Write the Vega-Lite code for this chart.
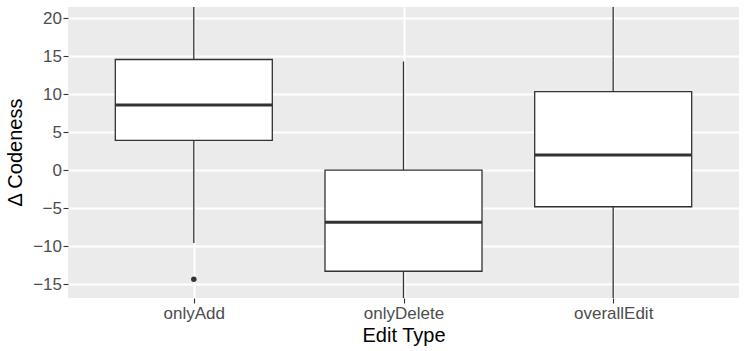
{
  "$schema": "https://vega.github.io/schema/vega-lite/v6.json",
  "width": 671,
  "height": 291,
  "autosize": "none",
  "padding": {"left": 68, "top": 7, "right": 8, "bottom": 53},
  "background": "white",
  "config": {
    "view": {"fill": "#EBEBEB", "stroke": null},
    "font": "Liberation Sans"
  },
  "data": {
    "values": [
      {"type": "onlyAdd", "lower": -9.59, "q1": 3.91, "median": 8.57, "q3": 14.55, "upper": 30, "outlier": -14.37},
      {"type": "onlyDelete", "lower": -25, "q1": -13.32, "median": -6.86, "q3": 0.0, "upper": 14.28, "outlier": null},
      {"type": "overallEdit", "lower": -25, "q1": -4.83, "median": 1.98, "q3": 10.33, "upper": 30, "outlier": null}
    ]
  },
  "encoding": {
    "x": {
      "field": "type",
      "type": "nominal",
      "sort": ["onlyAdd", "onlyDelete", "overallEdit"],
      "scale": {"type": "point", "padding": 0.6},
      "axis": {
        "title": "Edit Type",
        "labelAngle": 0,
        "domain": false,
        "grid": true,
        "gridColor": "white",
        "gridWidth": 2.1,
        "tickColor": "#333333",
        "tickWidth": 1.1,
        "tickSize": 5,
        "labelBaseline": "alphabetic",
        "labelPadding": 15,
        "labelFontSize": 17,
        "labelColor": "#4D4D4D",
        "labelFont": "Liberation Sans",
        "titleFont": "Liberation Sans",
        "titleFontSize": 20,
        "titleFontWeight": "normal",
        "titleColor": "black",
        "titleBaseline": "alphabetic",
        "titleY": 43
      }
    }
  },
  "layer": [
    {
      "mark": {"type": "rule", "color": "#333333", "strokeWidth": 1.3, "clip": true},
      "encoding": {
        "y": {
          "field": "q3",
          "type": "quantitative",
          "scale": {"domain": [-16.84, 21.46], "nice": false, "zero": false},
          "axis": {
            "title": "Δ Codeness",
            "values": [-15, -12.5, -10, -7.5, -5, -2.5, 0, 2.5, 5, 7.5, 10, 12.5, 15, 17.5, 20],
            "labelExpr": "datum.value % 5 === 0 ? datum.label : ''",
            "domain": false,
            "grid": true,
            "gridColor": "white",
            "gridWidth": {"condition": {"test": "datum.value % 5 === 0", "value": 2.1}, "value": 1.05},
            "tickOpacity": {"condition": {"test": "datum.value % 5 === 0", "value": 1}, "value": 0},
            "tickColor": "#333333",
            "tickWidth": 1.1,
            "tickSize": 5,
            "labelPadding": 1.5,
            "labelFontSize": 17,
            "labelColor": "#4D4D4D",
            "labelFont": "Liberation Sans",
            "titleFont": "Liberation Sans",
            "titleFontSize": 20,
            "titleFontWeight": "normal",
            "titleColor": "black",
            "titleBaseline": "middle",
            "titleX": -53,
            "titleY": 145
          }
        },
        "y2": {"field": "upper"}
      }
    },
    {
      "mark": {"type": "rule", "color": "#333333", "strokeWidth": 1.3, "clip": true},
      "encoding": {
        "y": {"field": "lower", "type": "quantitative"},
        "y2": {"field": "q1"}
      }
    },
    {
      "mark": {"type": "bar", "fill": "white", "stroke": "#333333", "strokeWidth": 1.3, "size": 157},
      "encoding": {
        "y": {"field": "q1", "type": "quantitative"},
        "y2": {"field": "q3"}
      }
    },
    {
      "mark": {"type": "tick", "color": "#333333", "opacity": 1, "size": 157, "thickness": 3},
      "encoding": {
        "y": {"field": "median", "type": "quantitative"}
      }
    },
    {
      "mark": {"type": "point", "filled": true, "color": "#333333", "opacity": 1, "size": 30},
      "encoding": {
        "y": {"field": "outlier", "type": "quantitative"}
      }
    }
  ]
}
